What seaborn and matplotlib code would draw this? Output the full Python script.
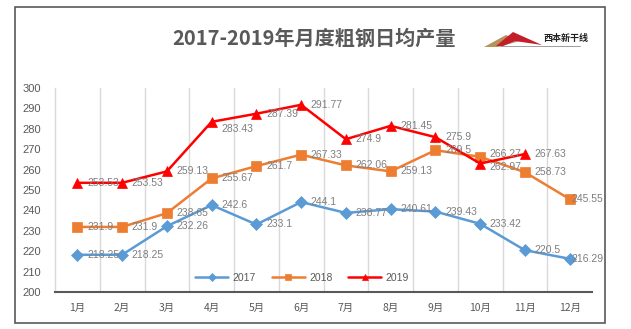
import matplotlib
matplotlib.use("Agg")
import matplotlib.pyplot as plt
import seaborn as sns
import pandas as pd
import numpy as np
from matplotlib.patches import Rectangle, Polygon

months = ["1月", "2月", "3月", "4月", "5月", "6月", "7月", "8月", "9月", "10月", "11月", "12月"]
v2017 = [218.25, 218.25, 232.26, 242.6, 233.1, 244.1, 238.77, 240.61, 239.43, 233.42, 220.5, 216.29]
v2018 = [231.9, 231.9, 238.65, 255.67, 261.7, 267.33, 262.06, 259.13, 269.5, 266.27, 258.73, 245.55]
v2019 = [253.53, 253.53, 259.13, 283.43, 287.39, 291.77, 274.9, 281.45, 275.9, 262.97, 267.63]
years = ["2017", "2018", "2019"]
title = "2017-2019年月度粗钢日均产量"

series = {"2017": v2017, "2018": v2018, "2019": v2019}
rows = []
for y, vals in series.items():
    for i, v in enumerate(vals):
        rows.append({"idx": i, "month": months[i], "value": v, "year": y})
df = pd.DataFrame(rows)

sns.set_theme(style="white")
plt.rcParams['font.family'] = ['Liberation Sans', 'Noto Sans CJK SC', 'DejaVu Sans']

fig = plt.figure(figsize=(6.31, 3.29), dpi=100)
fig.patch.set_facecolor("white")

# outer chart frame
fig.patches.append(Rectangle((15/631, 1-323/329), (605-15)/631, (323-7)/329,
                             transform=fig.transFigure, fill=False,
                             edgecolor="#595959", linewidth=1.2, zorder=0))

ax = fig.add_axes([55/631, 1-292/329, (592-55)/631, (292-88)/329])

palette = {"2017": "#5B9BD5", "2018": "#ED7D31", "2019": "#FF0000"}
markers = {"2017": "D", "2018": "s", "2019": "^"}
sns.lineplot(data=df, x="idx", y="value", hue="year", style="year",
             palette=palette, markers=markers, dashes=False, ax=ax,
             linewidth=1.8, markersize=6.5, markeredgewidth=0.5, legend=True)
for line in ax.lines:
    line.set_markeredgecolor(line.get_color())

ax.set_xlim(-0.5, 11.5)
ax.set_ylim(200, 300)
ax.set_yticks(np.arange(200, 301, 10))
ax.set_xticks(range(12))
ax.set_xticklabels(months, family=['Noto Sans CJK SC', 'DejaVu Sans'], fontsize=7.5, color="#595959")
ax.tick_params(axis="y", labelsize=8, labelcolor="#595959", length=0, pad=10)
ax.tick_params(axis="x", length=0, pad=8)
ax.set_xticks(np.arange(0.5, 11.5, 1), minor=True)
ax.grid(True, which="minor", axis="x", color="#D9D9D9", linewidth=1)
ax.grid(False, which="major")
ax.set_xlabel("")
ax.set_ylabel("")
for s in ["top", "right"]:
    ax.spines[s].set_visible(False)
ax.spines["left"].set_color("#D9D9D9")
ax.spines["left"].set_linewidth(1)
ax.spines["bottom"].set_color("#595959")
ax.spines["bottom"].set_linewidth(1.5)

# data labels
for y, vals in series.items():
    for i, v in enumerate(vals):
        off = (7, 0)
        if y == "2019" and i == 3:
            off = (7, -5)
        if y == "2018" and i == 9:
            off = (7, 2)
        if y == "2019" and i == 9:
            off = (7, -2.5)
        if i == 11:
            off = (1, 0)
        ax.annotate(f"{v:g}", (i, v), xytext=off, textcoords="offset points",
                    ha="left", va="center", fontsize=7.5, color="#7F7F7F")

leg = ax.legend(loc="center", bbox_to_anchor=(0.46, 0.07), ncol=3, frameon=False,
                fontsize=7.5, handlelength=3.2, markerscale=0.6, columnspacing=1.5,
                handletextpad=0.4)
for t in leg.get_texts():
    t.set_color("#595959")

fig.text(0.497, 1-38/329, title, ha="center", va="center", fontsize=14.5,
         fontweight="bold", color="#595959", family=['Noto Sans CJK SC', 'DejaVu Sans'])

# logo
def fx(x):
    return x/631
def fy(y):
    return 1-y/329
fig.patches.append(Polygon([(fx(484), fy(47)), (fx(506), fy(35)), (fx(520), fy(41)), (fx(498), fy(47))],
                           closed=True, transform=fig.transFigure, facecolor="#B8925A", edgecolor="none"))
fig.patches.append(Polygon([(fx(496), fy(46)), (fx(513), fy(32)), (fx(542), fy(45)), (fx(515), fy(41)), (fx(503), fy(46))],
                           closed=True, transform=fig.transFigure, facecolor="#C41E2A", edgecolor="none"))
fig.text(fx(543), fy(39), "西本新干线", ha="left", va="center", fontsize=6.5, fontweight="bold",
         color="#222222", family=['Noto Sans CJK SC', 'DejaVu Sans'])
fig.lines.append(plt.Line2D([fx(500), fx(580)], [fy(46), fy(46)], transform=fig.transFigure,
                            color="#777777", linewidth=0.5))

fig.savefig("out.png", dpi=100)
